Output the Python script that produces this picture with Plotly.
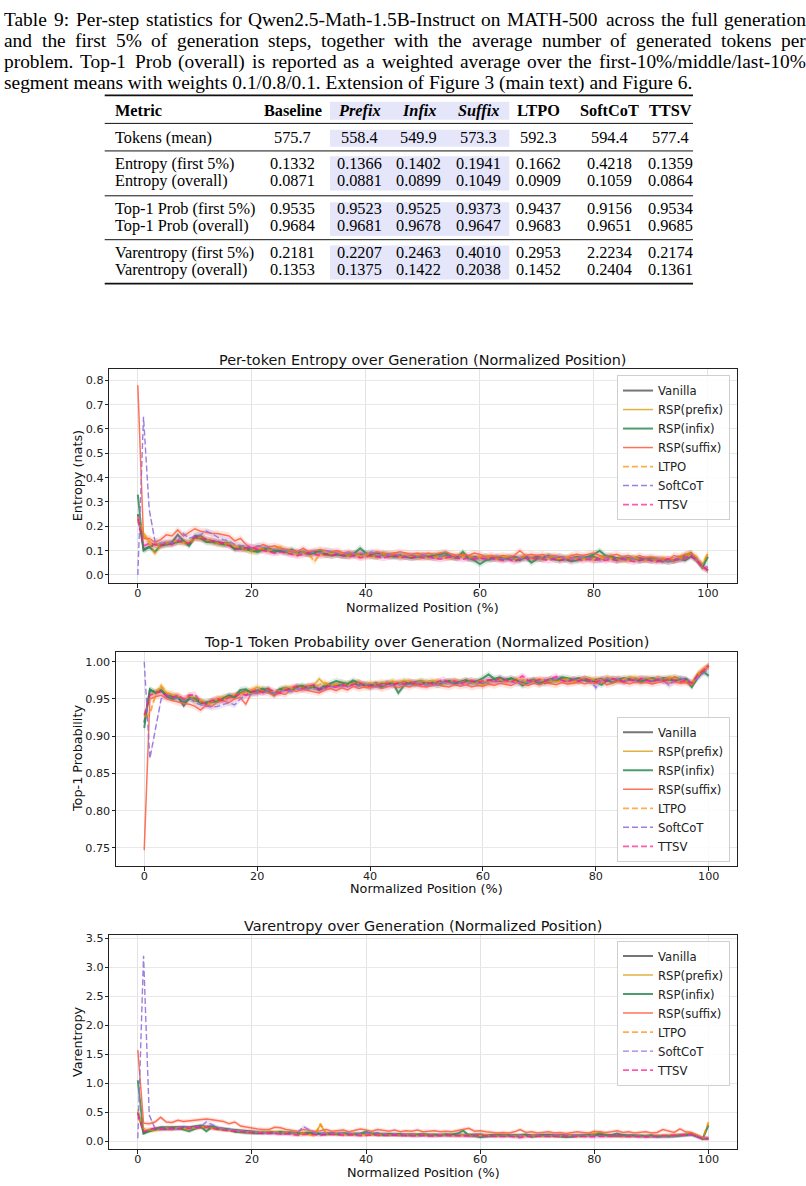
import plotly.graph_objects as go

W, H = 806, 1186

# ---------------- data ----------------
CAPTION_LINES = [
    "Table 9: Per-step statistics for Qwen2.5-Math-1.5B-Instruct on MATH-500 across the full generation",
    "and the first 5% of generation steps, together with the average number of generated tokens per",
    "problem. Top-1 Prob (overall) is reported as a weighted average over the first-10%/middle/last-10%",
    "segment means with weights 0.1/0.8/0.1. Extension of Figure 3 (main text) and Figure 6.",
]
CAPTION_JUSTIFIED = [True, True, True, False]

TABLE_COLUMNS = ["Baseline", "Prefix", "Infix", "Suffix", "LTPO", "SoftCoT", "TTSV"]
TABLE_METRICS = ["Tokens (mean)", "Entropy (first 5%)", "Entropy (overall)",
                 "Top-1 Prob (first 5%)", "Top-1 Prob (overall)",
                 "Varentropy (first 5%)", "Varentropy (overall)"]
COL_BASELINE = ["575.7", "0.1332", "0.0871", "0.9535", "0.9684", "0.2181", "0.1353"]
COL_PREFIX = ["558.4", "0.1366", "0.0881", "0.9523", "0.9681", "0.2207", "0.1375"]
COL_INFIX = ["549.9", "0.1402", "0.0899", "0.9525", "0.9678", "0.2463", "0.1422"]
COL_SUFFIX = ["573.3", "0.1941", "0.1049", "0.9373", "0.9647", "0.4010", "0.2038"]
COL_LTPO = ["592.3", "0.1662", "0.0909", "0.9437", "0.9683", "0.2953", "0.1452"]
COL_SOFTCOT = ["594.4", "0.4218", "0.1059", "0.9156", "0.9651", "2.2234", "0.2404"]
COL_TTSV = ["577.4", "0.1359", "0.0864", "0.9534", "0.9685", "0.2174", "0.1361"]

SERIES = ["Vanilla", "RSP(prefix)", "RSP(infix)", "RSP(suffix)", "LTPO", "SoftCoT", "TTSV"]
POSITION = list(range(0, 101))  # normalized position (%)

ENT_VANILLA = [
    0.25, 0.105, 0.115, 0.125, 0.125, 0.13, 0.135, 0.165, 0.14, 0.125,
    0.16, 0.16, 0.145, 0.14, 0.135, 0.13, 0.13, 0.11, 0.115, 0.11,
    0.105, 0.10, 0.11, 0.10, 0.095, 0.10, 0.095, 0.09, 0.095, 0.09,
    0.09, 0.095, 0.09, 0.085, 0.09, 0.085, 0.08, 0.085, 0.08, 0.085,
    0.08, 0.085, 0.09, 0.08, 0.085, 0.08, 0.08, 0.075, 0.08, 0.075,
    0.08, 0.075, 0.08, 0.075, 0.08, 0.075, 0.075, 0.08, 0.07, 0.075,
    0.07, 0.075, 0.07, 0.075, 0.07, 0.07, 0.075, 0.07, 0.075, 0.07,
    0.075, 0.07, 0.08, 0.07, 0.075, 0.07, 0.07, 0.075, 0.07, 0.07,
    0.075, 0.065, 0.07, 0.075, 0.07, 0.065, 0.07, 0.065, 0.07, 0.065,
    0.06, 0.065, 0.055, 0.065, 0.06, 0.065, 0.06, 0.075, 0.065, 0.035,
    0.018]
ENT_PREFIX = [
    0.22, 0.16, 0.14, 0.12, 0.13, 0.125, 0.13, 0.135, 0.13, 0.14,
    0.15, 0.15, 0.14, 0.135, 0.13, 0.125, 0.13, 0.115, 0.11, 0.105,
    0.095, 0.095, 0.11, 0.105, 0.10, 0.105, 0.095, 0.09, 0.085, 0.09,
    0.085, 0.09, 0.085, 0.08, 0.09, 0.085, 0.08, 0.08, 0.085, 0.075,
    0.08, 0.075, 0.08, 0.085, 0.075, 0.08, 0.075, 0.08, 0.075, 0.07,
    0.075, 0.08, 0.07, 0.075, 0.07, 0.075, 0.07, 0.075, 0.07, 0.065,
    0.07, 0.075, 0.065, 0.07, 0.065, 0.07, 0.065, 0.07, 0.07, 0.065,
    0.07, 0.065, 0.07, 0.075, 0.065, 0.07, 0.065, 0.07, 0.065, 0.07,
    0.06, 0.065, 0.07, 0.065, 0.06, 0.065, 0.06, 0.065, 0.06, 0.065,
    0.06, 0.065, 0.06, 0.055, 0.06, 0.065, 0.07, 0.085, 0.065, 0.04,
    0.085]
ENT_INFIX = [
    0.33, 0.10, 0.115, 0.095, 0.12, 0.125, 0.13, 0.135, 0.14, 0.12,
    0.155, 0.15, 0.135, 0.135, 0.13, 0.125, 0.125, 0.105, 0.11, 0.105,
    0.10, 0.095, 0.105, 0.11, 0.10, 0.10, 0.095, 0.105, 0.09, 0.095,
    0.085, 0.09, 0.10, 0.085, 0.08, 0.085, 0.08, 0.08, 0.09, 0.11,
    0.09, 0.08, 0.075, 0.085, 0.08, 0.075, 0.08, 0.075, 0.07, 0.075,
    0.08, 0.075, 0.08, 0.085, 0.09, 0.075, 0.07, 0.095, 0.07, 0.06,
    0.045, 0.06, 0.065, 0.07, 0.065, 0.07, 0.065, 0.06, 0.075, 0.05,
    0.065, 0.07, 0.075, 0.065, 0.06, 0.065, 0.055, 0.06, 0.07, 0.075,
    0.085, 0.10, 0.08, 0.075, 0.06, 0.07, 0.065, 0.07, 0.06, 0.065,
    0.07, 0.06, 0.065, 0.055, 0.06, 0.07, 0.08, 0.09, 0.06, 0.03,
    0.075]
ENT_SUFFIX = [
    0.78, 0.15, 0.15, 0.135, 0.145, 0.165, 0.16, 0.185, 0.16, 0.175,
    0.19, 0.18, 0.175, 0.17, 0.17, 0.165, 0.16, 0.14, 0.15, 0.125,
    0.11, 0.115, 0.125, 0.115, 0.12, 0.11, 0.105, 0.10, 0.095, 0.11,
    0.095, 0.10, 0.105, 0.10, 0.095, 0.10, 0.09, 0.095, 0.085, 0.09,
    0.085, 0.09, 0.095, 0.09, 0.085, 0.09, 0.095, 0.09, 0.085, 0.09,
    0.085, 0.09, 0.085, 0.09, 0.095, 0.085, 0.08, 0.085, 0.08, 0.09,
    0.085, 0.075, 0.08, 0.075, 0.08, 0.075, 0.08, 0.10, 0.08, 0.085,
    0.08, 0.085, 0.075, 0.08, 0.075, 0.065, 0.08, 0.085, 0.08, 0.085,
    0.09, 0.08, 0.075, 0.08, 0.085, 0.075, 0.08, 0.07, 0.08, 0.07,
    0.075, 0.07, 0.065, 0.06, 0.08, 0.075, 0.085, 0.09, 0.06, 0.03,
    0.02]
ENT_LTPO = [
    0.24, 0.175, 0.13, 0.09, 0.12, 0.13, 0.135, 0.14, 0.135, 0.13,
    0.15, 0.155, 0.145, 0.14, 0.13, 0.13, 0.125, 0.12, 0.115, 0.105,
    0.10, 0.11, 0.105, 0.10, 0.11, 0.115, 0.10, 0.095, 0.09, 0.095,
    0.085, 0.055, 0.09, 0.095, 0.085, 0.09, 0.085, 0.08, 0.085, 0.08,
    0.085, 0.08, 0.075, 0.085, 0.08, 0.085, 0.075, 0.08, 0.075, 0.08,
    0.075, 0.07, 0.075, 0.08, 0.075, 0.07, 0.075, 0.08, 0.07, 0.075,
    0.07, 0.07, 0.075, 0.065, 0.07, 0.075, 0.065, 0.07, 0.075, 0.07,
    0.065, 0.07, 0.075, 0.07, 0.065, 0.07, 0.075, 0.065, 0.07, 0.065,
    0.07, 0.075, 0.065, 0.07, 0.065, 0.06, 0.065, 0.07, 0.065, 0.06,
    0.065, 0.06, 0.07, 0.065, 0.06, 0.07, 0.08, 0.09, 0.075, 0.045,
    0.09]
ENT_SOFTCOT = [
    0.0, 0.65, 0.27, 0.14, 0.13, 0.135, 0.13, 0.14, 0.17, 0.15,
    0.16, 0.165, 0.18, 0.17, 0.155, 0.145, 0.14, 0.125, 0.12, 0.12,
    0.11, 0.12, 0.115, 0.11, 0.105, 0.105, 0.10, 0.095, 0.09, 0.095,
    0.09, 0.095, 0.09, 0.10, 0.095, 0.09, 0.085, 0.09, 0.085, 0.09,
    0.085, 0.095, 0.08, 0.085, 0.08, 0.08, 0.085, 0.075, 0.08, 0.075,
    0.08, 0.075, 0.07, 0.075, 0.08, 0.075, 0.07, 0.075, 0.065, 0.07,
    0.065, 0.07, 0.065, 0.07, 0.065, 0.07, 0.065, 0.07, 0.065, 0.07,
    0.07, 0.065, 0.075, 0.07, 0.075, 0.065, 0.07, 0.065, 0.075, 0.07,
    0.065, 0.06, 0.07, 0.065, 0.06, 0.065, 0.07, 0.065, 0.06, 0.065,
    0.06, 0.065, 0.06, 0.055, 0.06, 0.065, 0.07, 0.08, 0.065, 0.04,
    0.03]
ENT_TTSV = [
    0.23, 0.12, 0.13, 0.125, 0.12, 0.13, 0.125, 0.14, 0.135, 0.13,
    0.155, 0.15, 0.145, 0.14, 0.135, 0.13, 0.12, 0.11, 0.105, 0.11,
    0.115, 0.105, 0.10, 0.095, 0.09, 0.095, 0.09, 0.085, 0.08, 0.085,
    0.09, 0.085, 0.08, 0.085, 0.08, 0.085, 0.08, 0.075, 0.08, 0.07,
    0.075, 0.08, 0.075, 0.07, 0.075, 0.08, 0.07, 0.075, 0.07, 0.075,
    0.07, 0.075, 0.07, 0.065, 0.07, 0.075, 0.07, 0.065, 0.07, 0.065,
    0.07, 0.065, 0.07, 0.065, 0.06, 0.065, 0.055, 0.065, 0.07, 0.065,
    0.07, 0.065, 0.06, 0.065, 0.06, 0.065, 0.06, 0.065, 0.06, 0.065,
    0.06, 0.065, 0.06, 0.065, 0.06, 0.065, 0.06, 0.055, 0.06, 0.065,
    0.06, 0.055, 0.06, 0.065, 0.06, 0.065, 0.07, 0.08, 0.06, 0.035,
    0.02]

TOP1_VANILLA = [
    0.918, 0.962, 0.959, 0.961, 0.955, 0.953, 0.952, 0.941, 0.952, 0.948,
    0.946, 0.944, 0.946, 0.949, 0.952, 0.954, 0.952, 0.958, 0.961, 0.960,
    0.958, 0.962, 0.964, 0.955, 0.962, 0.963, 0.961, 0.966, 0.965, 0.967,
    0.966, 0.963, 0.968, 0.967, 0.969, 0.968, 0.970, 0.972, 0.968, 0.970,
    0.969, 0.971, 0.970, 0.972, 0.969, 0.971, 0.973, 0.971, 0.972, 0.974,
    0.972, 0.971, 0.973, 0.972, 0.974, 0.972, 0.973, 0.975, 0.972, 0.974,
    0.970, 0.975, 0.976, 0.974, 0.976, 0.977, 0.975, 0.972, 0.974, 0.976,
    0.973, 0.971, 0.973, 0.975, 0.977, 0.974, 0.976, 0.978, 0.975, 0.973,
    0.976, 0.977, 0.975, 0.977, 0.976, 0.978, 0.976, 0.977, 0.975, 0.977,
    0.978, 0.976, 0.978, 0.977, 0.979, 0.976, 0.977, 0.970, 0.982, 0.988,
    0.995]
TOP1_PREFIX = [
    0.925, 0.955, 0.960, 0.966, 0.958, 0.955, 0.953, 0.947, 0.955, 0.951,
    0.949, 0.942, 0.946, 0.950, 0.953, 0.952, 0.955, 0.957, 0.956, 0.962,
    0.966, 0.963, 0.962, 0.958, 0.960, 0.963, 0.966, 0.964, 0.967, 0.965,
    0.968, 0.977, 0.969, 0.967, 0.970, 0.972, 0.969, 0.971, 0.973, 0.970,
    0.972, 0.969, 0.973, 0.971, 0.974, 0.972, 0.975, 0.973, 0.971, 0.974,
    0.973, 0.975, 0.972, 0.970, 0.973, 0.974, 0.971, 0.973, 0.975, 0.971,
    0.969, 0.972, 0.974, 0.976, 0.973, 0.975, 0.977, 0.974, 0.972, 0.975,
    0.974, 0.976, 0.973, 0.975, 0.977, 0.974, 0.972, 0.975, 0.977, 0.978,
    0.974, 0.976, 0.978, 0.976, 0.973, 0.977, 0.979, 0.976, 0.978, 0.977,
    0.975, 0.978, 0.976, 0.979, 0.977, 0.975, 0.973, 0.972, 0.984, 0.990,
    0.993]
TOP1_INFIX = [
    0.911, 0.963, 0.958, 0.962, 0.953, 0.950, 0.952, 0.945, 0.950, 0.951,
    0.944, 0.945, 0.947, 0.946, 0.950, 0.955, 0.953, 0.962, 0.963, 0.958,
    0.961, 0.964, 0.960, 0.957, 0.963, 0.965, 0.962, 0.966, 0.968, 0.964,
    0.967, 0.962, 0.966, 0.971, 0.974, 0.972, 0.970, 0.975, 0.971, 0.968,
    0.967, 0.969, 0.966, 0.970, 0.972, 0.958, 0.968, 0.971, 0.969, 0.973,
    0.970, 0.972, 0.969, 0.971, 0.974, 0.970, 0.973, 0.975, 0.972, 0.974,
    0.978, 0.983, 0.977, 0.979, 0.975, 0.978, 0.974, 0.968, 0.972, 0.975,
    0.970, 0.974, 0.977, 0.975, 0.979, 0.978, 0.976, 0.974, 0.977, 0.975,
    0.973, 0.969, 0.975, 0.972, 0.976, 0.974, 0.977, 0.975, 0.973, 0.976,
    0.974, 0.977, 0.975, 0.976, 0.974, 0.977, 0.975, 0.966, 0.978, 0.987,
    0.981]
TOP1_SUFFIX = [
    0.747, 0.950, 0.953, 0.955, 0.950, 0.948, 0.945, 0.944, 0.943, 0.940,
    0.935, 0.942, 0.940, 0.946, 0.948, 0.945, 0.950, 0.952, 0.943, 0.958,
    0.957, 0.960, 0.958, 0.955, 0.958, 0.956, 0.962, 0.960, 0.963, 0.961,
    0.960, 0.958, 0.962, 0.964, 0.961, 0.965, 0.962, 0.967, 0.964, 0.966,
    0.965, 0.967, 0.964, 0.966, 0.968, 0.965, 0.968, 0.966, 0.969, 0.967,
    0.966, 0.968, 0.969, 0.967, 0.966, 0.969, 0.967, 0.969, 0.966, 0.968,
    0.967, 0.970, 0.968, 0.971, 0.970, 0.968, 0.972, 0.970, 0.968, 0.971,
    0.969, 0.972, 0.970, 0.969, 0.972, 0.970, 0.971, 0.973, 0.970, 0.972,
    0.971, 0.973, 0.969, 0.971, 0.974, 0.972, 0.970, 0.973, 0.971, 0.972,
    0.970, 0.972, 0.974, 0.971, 0.973, 0.971, 0.972, 0.969, 0.980, 0.988,
    0.995]
TOP1_LTPO = [
    0.926, 0.930, 0.955, 0.968, 0.958, 0.956, 0.954, 0.950, 0.952, 0.948,
    0.946, 0.944, 0.947, 0.951, 0.949, 0.953, 0.955, 0.958, 0.960, 0.962,
    0.964, 0.960, 0.963, 0.958, 0.962, 0.965, 0.963, 0.967, 0.964, 0.968,
    0.966, 0.969, 0.972, 0.968, 0.970, 0.967, 0.971, 0.969, 0.972, 0.968,
    0.966, 0.970, 0.968, 0.971, 0.973, 0.970, 0.972, 0.974, 0.971, 0.973,
    0.970, 0.972, 0.974, 0.971, 0.973, 0.975, 0.972, 0.974, 0.971, 0.973,
    0.975, 0.972, 0.974, 0.976, 0.973, 0.975, 0.974, 0.976, 0.973, 0.975,
    0.977, 0.974, 0.976, 0.973, 0.975, 0.977, 0.974, 0.976, 0.978, 0.975,
    0.977, 0.974, 0.979, 0.976, 0.978, 0.975, 0.977, 0.979, 0.976, 0.978,
    0.976, 0.978, 0.975, 0.977, 0.979, 0.976, 0.974, 0.970, 0.982, 0.989,
    0.994]
TOP1_SOFTCOT = [
    1.000, 0.870, 0.910, 0.950, 0.955, 0.953, 0.951, 0.948, 0.952, 0.945,
    0.942, 0.940, 0.939, 0.940, 0.943, 0.945, 0.942, 0.950, 0.955, 0.956,
    0.960, 0.958, 0.961, 0.957, 0.960, 0.962, 0.960, 0.964, 0.962, 0.965,
    0.963, 0.966, 0.964, 0.967, 0.965, 0.968, 0.966, 0.969, 0.967, 0.970,
    0.968, 0.966, 0.969, 0.967, 0.970, 0.968, 0.971, 0.969, 0.972, 0.970,
    0.968, 0.971, 0.969, 0.972, 0.970, 0.973, 0.971, 0.969, 0.972, 0.970,
    0.973, 0.971, 0.974, 0.972, 0.975, 0.973, 0.971, 0.974, 0.972, 0.975,
    0.973, 0.976, 0.974, 0.977, 0.975, 0.973, 0.976, 0.974, 0.977, 0.975,
    0.965, 0.976, 0.978, 0.975, 0.977, 0.974, 0.977, 0.975, 0.978, 0.976,
    0.974, 0.977, 0.975, 0.968, 0.976, 0.978, 0.975, 0.972, 0.978, 0.984,
    0.990]
TOP1_TTSV = [
    0.928, 0.955, 0.958, 0.960, 0.954, 0.952, 0.955, 0.950, 0.955, 0.956,
    0.946, 0.943, 0.948, 0.950, 0.948, 0.952, 0.954, 0.957, 0.955, 0.960,
    0.962, 0.959, 0.963, 0.960, 0.958, 0.962, 0.965, 0.967, 0.964, 0.966,
    0.969, 0.962, 0.965, 0.968, 0.966, 0.969, 0.967, 0.970, 0.972, 0.969,
    0.967, 0.970, 0.968, 0.971, 0.969, 0.972, 0.970, 0.973, 0.971, 0.969,
    0.972, 0.970, 0.973, 0.976, 0.972, 0.974, 0.971, 0.973, 0.975, 0.972,
    0.974, 0.976, 0.973, 0.978, 0.975, 0.973, 0.976, 0.981, 0.975, 0.973,
    0.976, 0.974, 0.977, 0.980, 0.975, 0.973, 0.976, 0.974, 0.977, 0.975,
    0.973, 0.976, 0.974, 0.977, 0.975, 0.973, 0.976, 0.974, 0.977, 0.975,
    0.973, 0.976, 0.974, 0.977, 0.975, 0.973, 0.975, 0.971, 0.982, 0.988,
    0.994]

VAR_VANILLA = [
    0.50, 0.14, 0.19, 0.22, 0.24, 0.24, 0.245, 0.25, 0.245, 0.24,
    0.26, 0.27, 0.25, 0.255, 0.23, 0.21, 0.20, 0.19, 0.18, 0.17,
    0.16, 0.155, 0.15, 0.16, 0.15, 0.145, 0.15, 0.14, 0.135, 0.13,
    0.135, 0.13, 0.125, 0.135, 0.13, 0.125, 0.13, 0.12, 0.125, 0.12,
    0.115, 0.12, 0.125, 0.115, 0.12, 0.115, 0.11, 0.115, 0.12, 0.11,
    0.115, 0.11, 0.115, 0.11, 0.105, 0.11, 0.115, 0.105, 0.11, 0.105,
    0.12, 0.10, 0.105, 0.10, 0.11, 0.10, 0.105, 0.10, 0.11, 0.10,
    0.105, 0.10, 0.11, 0.10, 0.105, 0.095, 0.10, 0.105, 0.10, 0.095,
    0.10, 0.105, 0.11, 0.10, 0.13, 0.10, 0.095, 0.10, 0.095, 0.09,
    0.085, 0.08, 0.09, 0.085, 0.09, 0.095, 0.10, 0.11, 0.09, 0.04,
    0.04]
VAR_PREFIX = [
    0.55, 0.19, 0.17, 0.20, 0.21, 0.22, 0.20, 0.22, 0.215, 0.23,
    0.22, 0.24, 0.225, 0.23, 0.21, 0.20, 0.19, 0.175, 0.165, 0.16,
    0.15, 0.14, 0.16, 0.15, 0.145, 0.14, 0.15, 0.13, 0.12, 0.13,
    0.12, 0.125, 0.28, 0.13, 0.12, 0.125, 0.12, 0.115, 0.12, 0.11,
    0.115, 0.12, 0.11, 0.115, 0.11, 0.105, 0.11, 0.10, 0.11, 0.105,
    0.10, 0.105, 0.10, 0.11, 0.10, 0.095, 0.10, 0.105, 0.095, 0.10,
    0.095, 0.10, 0.09, 0.10, 0.095, 0.09, 0.095, 0.10, 0.09, 0.095,
    0.10, 0.09, 0.095, 0.09, 0.095, 0.085, 0.09, 0.095, 0.09, 0.10,
    0.11, 0.16, 0.10, 0.09, 0.095, 0.09, 0.085, 0.09, 0.085, 0.09,
    0.085, 0.09, 0.085, 0.09, 0.10, 0.11, 0.12, 0.14, 0.10, 0.05,
    0.30]
VAR_INFIX = [
    1.05, 0.13, 0.17, 0.20, 0.22, 0.21, 0.22, 0.22, 0.20, 0.17,
    0.21, 0.25, 0.17, 0.24, 0.21, 0.20, 0.20, 0.16, 0.155, 0.14,
    0.14, 0.135, 0.15, 0.14, 0.15, 0.16, 0.14, 0.15, 0.13, 0.14,
    0.15, 0.135, 0.13, 0.12, 0.13, 0.12, 0.14, 0.13, 0.12, 0.13,
    0.16, 0.13, 0.12, 0.11, 0.12, 0.11, 0.115, 0.10, 0.105, 0.11,
    0.12, 0.10, 0.11, 0.10, 0.12, 0.11, 0.13, 0.18, 0.10, 0.09,
    0.065, 0.08, 0.09, 0.10, 0.095, 0.10, 0.09, 0.085, 0.11, 0.075,
    0.09, 0.10, 0.095, 0.085, 0.08, 0.07, 0.075, 0.09, 0.10, 0.11,
    0.12, 0.13, 0.10, 0.095, 0.09, 0.10, 0.095, 0.10, 0.085, 0.09,
    0.10, 0.08, 0.085, 0.08, 0.085, 0.10, 0.11, 0.12, 0.08, 0.04,
    0.27]
VAR_SUFFIX = [
    1.57, 0.31, 0.30, 0.33, 0.41, 0.33, 0.32, 0.36, 0.34, 0.35,
    0.36, 0.37, 0.38, 0.37, 0.35, 0.34, 0.30, 0.33, 0.26, 0.24,
    0.22, 0.21, 0.20, 0.20, 0.24, 0.23, 0.20, 0.19, 0.17, 0.20,
    0.18, 0.17, 0.18, 0.20, 0.17, 0.18, 0.19, 0.16, 0.18, 0.21,
    0.19, 0.17, 0.20, 0.18, 0.17, 0.19, 0.16, 0.18, 0.17, 0.19,
    0.16, 0.17, 0.18, 0.16, 0.17, 0.16, 0.18, 0.19, 0.22, 0.17,
    0.18, 0.16, 0.15, 0.14, 0.15, 0.14, 0.16, 0.20, 0.15, 0.16,
    0.14, 0.15, 0.16, 0.14, 0.15, 0.13, 0.14, 0.16, 0.15, 0.14,
    0.17, 0.16, 0.15, 0.16, 0.18, 0.15, 0.16, 0.14, 0.15, 0.16,
    0.14, 0.15, 0.20, 0.17, 0.15, 0.21, 0.16, 0.15, 0.10, 0.06,
    0.06]
VAR_LTPO = [
    0.42, 0.22, 0.20, 0.18, 0.20, 0.22, 0.21, 0.23, 0.22, 0.20,
    0.23, 0.25, 0.24, 0.22, 0.21, 0.20, 0.19, 0.18, 0.17, 0.15,
    0.14, 0.16, 0.15, 0.14, 0.16, 0.15, 0.14, 0.135, 0.13, 0.14,
    0.12, 0.09, 0.30, 0.13, 0.12, 0.13, 0.12, 0.11, 0.12, 0.115,
    0.11, 0.12, 0.11, 0.12, 0.105, 0.11, 0.10, 0.11, 0.105, 0.10,
    0.11, 0.10, 0.095, 0.10, 0.105, 0.095, 0.10, 0.095, 0.10, 0.09,
    0.095, 0.10, 0.09, 0.095, 0.09, 0.095, 0.085, 0.09, 0.095, 0.09,
    0.085, 0.09, 0.095, 0.09, 0.085, 0.09, 0.095, 0.085, 0.09, 0.095,
    0.14, 0.09, 0.085, 0.09, 0.085, 0.08, 0.085, 0.09, 0.085, 0.08,
    0.085, 0.09, 0.10, 0.09, 0.095, 0.10, 0.11, 0.13, 0.09, 0.05,
    0.33]
VAR_SOFTCOT = [
    0.05, 3.20, 0.45, 0.22, 0.20, 0.21, 0.20, 0.22, 0.25, 0.22,
    0.24, 0.25, 0.33, 0.28, 0.24, 0.21, 0.20, 0.18, 0.17, 0.16,
    0.15, 0.16, 0.14, 0.13, 0.14, 0.13, 0.12, 0.13, 0.14, 0.25,
    0.20, 0.14, 0.13, 0.14, 0.13, 0.15, 0.14, 0.12, 0.13, 0.12,
    0.14, 0.13, 0.15, 0.12, 0.11, 0.12, 0.10, 0.11, 0.10, 0.09,
    0.10, 0.095, 0.09, 0.10, 0.095, 0.09, 0.10, 0.095, 0.09, 0.085,
    0.09, 0.085, 0.09, 0.095, 0.09, 0.085, 0.09, 0.095, 0.085, 0.09,
    0.095, 0.10, 0.09, 0.11, 0.10, 0.095, 0.09, 0.10, 0.095, 0.09,
    0.085, 0.09, 0.085, 0.09, 0.095, 0.09, 0.085, 0.09, 0.085, 0.08,
    0.085, 0.09, 0.085, 0.08, 0.085, 0.09, 0.10, 0.11, 0.08, 0.05,
    0.05]
VAR_TTSV = [
    0.48, 0.16, 0.20, 0.22, 0.21, 0.20, 0.22, 0.21, 0.23, 0.22,
    0.24, 0.23, 0.24, 0.22, 0.20, 0.19, 0.18, 0.17, 0.16, 0.15,
    0.15, 0.14, 0.13, 0.14, 0.13, 0.12, 0.13, 0.11, 0.10, 0.11,
    0.12, 0.11, 0.10, 0.11, 0.12, 0.11, 0.10, 0.11, 0.10, 0.095,
    0.10, 0.11, 0.10, 0.095, 0.10, 0.105, 0.095, 0.10, 0.09, 0.095,
    0.10, 0.09, 0.095, 0.09, 0.095, 0.10, 0.09, 0.085, 0.09, 0.095,
    0.09, 0.085, 0.09, 0.085, 0.08, 0.085, 0.07, 0.06, 0.08, 0.085,
    0.09, 0.085, 0.08, 0.085, 0.09, 0.085, 0.08, 0.085, 0.08, 0.075,
    0.08, 0.085, 0.08, 0.085, 0.09, 0.085, 0.08, 0.085, 0.08, 0.075,
    0.08, 0.085, 0.08, 0.085, 0.09, 0.10, 0.11, 0.12, 0.08, 0.04,
    0.04]

# approximate half-width of the shaded variability band for each panel
BAND_ENTROPY = 0.014
BAND_TOP1 = 0.0045
BAND_VARENT = 0.035

# ---------------- helpers ----------------
def px(x):
    return x / W


def py(y):
    return 1 - y / H


# Times-Roman advance widths (1/1000 em) used to justify caption lines
TIMES_W = {
    " ": 250, "%": 833, "(": 333, ")": 333, ",": 250, "-": 333, ".": 250, "/": 278, ":": 278,
    "A": 722, "B": 667, "H": 722, "I": 333, "M": 889, "P": 556, "Q": 722, "T": 611, "E": 611, "F": 556,
    "a": 444, "b": 500, "c": 444, "d": 500, "e": 444, "f": 333, "g": 500, "h": 500, "i": 278,
    "k": 500, "l": 278, "m": 778, "n": 500, "o": 500, "p": 500, "r": 333, "s": 389, "t": 278,
    "u": 500, "v": 500, "w": 722, "x": 500, "y": 500,
}


def text_width(s, size):
    return sum(TIMES_W.get(ch, 500) for ch in s) * size / 1000.0


STYLE = {
    "Vanilla": ("110,110,110", 0.95, 2.0, "solid"),
    "RSP(prefix)": ("218,165,32", 0.85, 1.5, "solid"),
    "RSP(infix)": ("46,139,87", 0.85, 2.0, "solid"),
    "RSP(suffix)": ("255,99,71", 0.9, 1.5, "solid"),
    "LTPO": ("255,140,0", 0.7, 1.8, "6px,3px"),
    "SoftCoT": ("147,112,219", 0.9, 1.4, "6px,3px"),
    "TTSV": ("255,20,147", 0.7, 1.8, "6px,3px"),
}

PANELS = [
    dict(data=[ENT_VANILLA, ENT_PREFIX, ENT_INFIX, ENT_SUFFIX, ENT_LTPO, ENT_SOFTCOT, ENT_TTSV],
         band=BAND_ENTROPY, xa="x", ya="y", legend="legend"),
    dict(data=[TOP1_VANILLA, TOP1_PREFIX, TOP1_INFIX, TOP1_SUFFIX, TOP1_LTPO, TOP1_SOFTCOT, TOP1_TTSV],
         band=BAND_TOP1, xa="x2", ya="y2", legend="legend2"),
    dict(data=[VAR_VANILLA, VAR_PREFIX, VAR_INFIX, VAR_SUFFIX, VAR_LTPO, VAR_SOFTCOT, VAR_TTSV],
         band=BAND_VARENT, xa="x3", ya="y3", legend="legend3"),
]

fig = go.Figure()

for panel in PANELS:
    for name, vals in zip(SERIES, panel["data"]):
        rgb, alpha, lw, dash = STYLE[name]
        upper = [v + panel["band"] for v in vals]
        lower = [v - panel["band"] for v in vals]
        fig.add_trace(go.Scatter(
            x=POSITION + POSITION[::-1], y=upper + lower[::-1],
            fill="toself", fillcolor=f"rgba({rgb},0.17)", line=dict(width=0),
            mode="lines", hoverinfo="skip", showlegend=False,
            xaxis=panel["xa"], yaxis=panel["ya"]))
    for name, vals in zip(SERIES, panel["data"]):
        rgb, alpha, lw, dash = STYLE[name]
        fig.add_trace(go.Scatter(
            x=POSITION, y=vals, mode="lines", name=name,
            line=dict(color=f"rgba({rgb},{alpha})", width=lw, dash=dash),
            xaxis=panel["xa"], yaxis=panel["ya"], legend=panel["legend"]))

AXIS_FONT = dict(family="DejaVu Sans", size=11.2, color="#222")
common_x = dict(range=[-5, 105], tickvals=[0, 20, 40, 60, 80, 100], ticks="outside", ticklen=3.5,
                tickcolor="#222", showline=True, mirror=True, linecolor="#222", linewidth=1,
                showgrid=True, gridcolor="#e3e3e3", gridwidth=1, zeroline=False, tickfont=AXIS_FONT,
                ticklabelstandoff=-4)
common_y = dict(ticks="outside", ticklen=3.5, tickcolor="#222", showline=True, mirror=True,
                linecolor="#222", linewidth=1, showgrid=True, gridcolor="#e8e8e8", gridwidth=1,
                zeroline=False, tickfont=AXIS_FONT, ticklabelstandoff=-1)

BOX1 = (109.3, 736.5, 367.3, 581.7)
BOX2 = (116.0, 737.0, 650.7, 865.3)
BOX3 = (109.3, 737.0, 934.3, 1149.0)

fig.update_layout(
    xaxis=dict(domain=[px(BOX1[0]), px(BOX1[1])], anchor="y", **common_x),
    yaxis=dict(domain=[py(BOX1[3]), py(BOX1[2])], anchor="x", range=[-0.034, 0.845],
               tickvals=[0, 0.1, 0.2, 0.3, 0.4, 0.5, 0.6, 0.7, 0.8], tickformat=".1f", **common_y),
    xaxis2=dict(domain=[px(BOX2[0]), px(BOX2[1])], anchor="y2", **common_x),
    yaxis2=dict(domain=[py(BOX2[3]), py(BOX2[2])], anchor="x2", range=[0.7255, 1.013],
                tickvals=[0.75, 0.80, 0.85, 0.90, 0.95, 1.00], tickformat=".2f", **common_y),
    xaxis3=dict(domain=[px(BOX3[0]), px(BOX3[1])], anchor="y3", **common_x),
    yaxis3=dict(domain=[py(BOX3[3]), py(BOX3[2])], anchor="x3", range=[-0.138, 3.558],
                tickvals=[0, 0.5, 1.0, 1.5, 2.0, 2.5, 3.0, 3.5], tickformat=".1f", **common_y),
)

LEG = dict(bgcolor="rgba(255,255,255,0.85)", bordercolor="#d0d0d0", borderwidth=1,
           font=dict(family="DejaVu Sans", size=11.7, color="#222"), xanchor="right",
           tracegroupgap=0)
fig.update_layout(
    legend=dict(x=px(730), y=py(373), yanchor="top", **LEG),
    legend2=dict(x=px(730), y=py(861), yanchor="bottom", **LEG),
    legend3=dict(x=px(730), y=py(940), yanchor="top", **LEG),
)

annotations = []
shapes = []

TITLES = ["Per-token Entropy over Generation (Normalized Position)",
          "Top-1 Token Probability over Generation (Normalized Position)",
          "Varentropy over Generation (Normalized Position)"]
YLABELS = ["Entropy (nats)", "Top-1 Probability", "Varentropy"]
for box, title, ylab, ty, xy in zip([BOX1, BOX2, BOX3], TITLES, YLABELS, [358, 641, 925], [606, 888, 1172]):
    cx = (box[0] + box[1]) / 2
    cy = (box[2] + box[3]) / 2
    annotations.append(dict(x=px(cx), y=py(ty), xref="paper", yref="paper", text=title, showarrow=False,
                            xanchor="center", yanchor="middle",
                            font=dict(family="DejaVu Sans", size=14.4, color="#111")))
    annotations.append(dict(x=px(cx), y=py(xy), xref="paper", yref="paper", text="Normalized Position (%)",
                            showarrow=False, xanchor="center", yanchor="middle",
                            font=dict(family="DejaVu Sans", size=12.8, color="#111")))
    annotations.append(dict(x=px(77), y=py(cy), xref="paper", yref="paper", text=ylab, textangle=-90,
                            showarrow=False, xanchor="center", yanchor="middle",
                            font=dict(family="DejaVu Sans", size=12.8, color="#111")))

# caption (justified like the LaTeX original)
SERIF = "Liberation Serif"
CAP_SIZE = 19.4
CAP_LEFT, CAP_RIGHT = 2.0, 804.0
for i, (line, just) in enumerate(zip(CAPTION_LINES, CAPTION_JUSTIFIED)):
    yy = py(17 + 21 * i)
    cfont = dict(family=SERIF, size=CAP_SIZE, color="#000")
    if not just:
        annotations.append(dict(x=px(CAP_LEFT), y=yy, xref="paper", yref="paper", text=line,
                                showarrow=False, xanchor="left", yanchor="middle", font=cfont))
        continue
    words = line.split(" ")
    widths = [text_width(w, CAP_SIZE) for w in words]
    gap = (CAP_RIGHT - CAP_LEFT - sum(widths)) / (len(words) - 1)
    xcur = CAP_LEFT
    for w, ww in zip(words, widths):
        annotations.append(dict(x=px(xcur), y=yy, xref="paper", yref="paper", text=w,
                                showarrow=False, xanchor="left", yanchor="middle", font=cfont))
        xcur += ww + gap

# table
COL_X = [292.7, 359.0, 418.5, 478.0, 538.3, 609.5, 670.3]
COL_DATA = [COL_BASELINE, COL_PREFIX, COL_INFIX, COL_SUFFIX, COL_LTPO, COL_SOFTCOT, COL_TTSV]
ROW_Y = [134.7, 161.3, 178.0, 206.0, 223.0, 250.3, 267.3]
HEADER_Y = 107.3
TFONT = dict(family=SERIF, size=16.3, color="#000")

for y0, y1 in [(99, 117), (127, 144), (153.7, 188), (199.7, 233.7), (243, 277.3)]:
    shapes.append(dict(type="rect", xref="paper", yref="paper", x0=px(330), x1=px(509.3),
                       y0=py(y1), y1=py(y0), fillcolor="#E6E6FA", line=dict(width=0), layer="below"))
for yy, lw in [(92.7, 1.8), (120.7, 1.0), (148.3, 1.0), (193.3, 1.0), (237.3, 1.0), (281.3, 1.8)]:
    shapes.append(dict(type="line", xref="paper", yref="paper", x0=px(104.7), x1=px(693),
                       y0=py(yy), y1=py(yy), line=dict(color="#111", width=lw)))

annotations.append(dict(x=px(112.5), y=py(HEADER_Y), xref="paper", yref="paper", text="<b>Metric</b>",
                        showarrow=False, xanchor="left", yanchor="middle", font=TFONT))
for cx, col in zip(COL_X, TABLE_COLUMNS):
    label = f"<b><i>{col}</i></b>" if col in ("Prefix", "Infix", "Suffix") else f"<b>{col}</b>"
    annotations.append(dict(x=px(cx), y=py(HEADER_Y), xref="paper", yref="paper", text=label,
                            showarrow=False, xanchor="center", yanchor="middle", font=TFONT))
for ry, metric in zip(ROW_Y, TABLE_METRICS):
    annotations.append(dict(x=px(112.5), y=py(ry), xref="paper", yref="paper", text=metric,
                            showarrow=False, xanchor="left", yanchor="middle", font=TFONT))
for cx, col in zip(COL_X, COL_DATA):
    for ry, val in zip(ROW_Y, col):
        annotations.append(dict(x=px(cx), y=py(ry), xref="paper", yref="paper", text=val,
                                showarrow=False, xanchor="center", yanchor="middle", font=TFONT))

fig.update_layout(
    width=W, height=H, margin=dict(l=0, r=0, t=0, b=0),
    paper_bgcolor="white", plot_bgcolor="white",
    font=dict(family="DejaVu Sans", color="#222"),
    annotations=annotations, shapes=shapes, showlegend=True,
)

fig.write_html("out.html")
